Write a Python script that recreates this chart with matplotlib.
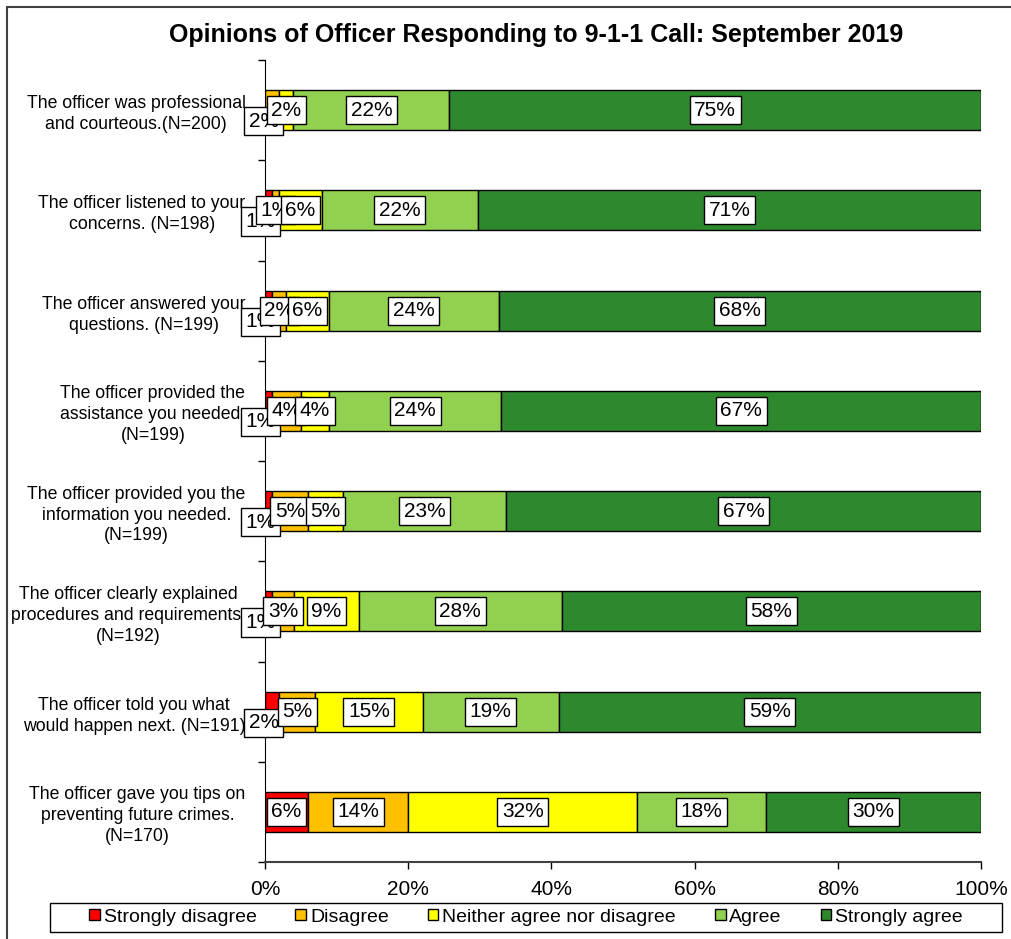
import matplotlib
matplotlib.use('Agg')
import matplotlib.pyplot as plt
from matplotlib.patches import Rectangle
import numpy as np

plt.rcParams['font.family'] = ['Liberation Sans', 'DejaVu Sans']

# Survey statements (top to bottom)
statements = [
    "The officer was professional\nand courteous.(N=200)",
    "The officer listened to your\nconcerns. (N=198)",
    "The officer answered your\nquestions. (N=199)",
    "The officer provided the\nassistance you needed.\n(N=199)",
    "The officer provided you the\ninformation you needed.\n(N=199)",
    "The officer clearly explained\nprocedures and requirements.\n(N=192)",
    "The officer told you what\nwould happen next. (N=191)",
    "The officer gave you tips on\npreventing future crimes.\n(N=170)",
]

# Percentages per response
strongly_disagree = [0, 1, 1, 1, 1, 1, 2, 6]
disagree = [2, 1, 2, 4, 5, 3, 5, 14]
neither = [2, 6, 6, 4, 5, 9, 15, 32]
agree = [22, 22, 24, 24, 23, 28, 19, 18]
strongly_agree = [75, 71, 68, 67, 67, 58, 59, 30]

series_names = ['Strongly disagree', 'Disagree', 'Neither agree nor disagree',
                'Agree', 'Strongly agree']
colors = ['#FF0000', '#FFC000', '#FFFF00', '#92D050', '#2E882E']

x_ticks = [0, 20, 40, 60, 80, 100]

W, H = 1012, 939
fig = plt.figure(figsize=(W / 100, H / 100), dpi=100)
ax = fig.add_axes([265 / W, 1 - 862 / H, (981 - 265) / W, (862 - 60) / H])

data = np.array([strongly_disagree, disagree, neither, agree, strongly_agree], dtype=float)
totals = data.sum(axis=0)
shares = data / totals * 100

y = np.arange(len(statements))
left = np.zeros(len(statements))
z = 3
for i, name in enumerate(series_names):
    ax.barh(y, shares[i], left=left, height=0.4, color=colors[i],
            edgecolor='black', linewidth=1, label=name, zorder=2)
    for j in range(len(statements)):
        val = data[i, j]
        if val <= 0:
            continue
        cx = left[j] + shares[i, j] / 2
        first = left[j] == 0
        dx, dy = 0, 0
        if first and shares[i, j] < 3:
            # small first segment: label nudged down-left like the original
            dx, dy = -6, -8
        ax.annotate(f"{int(val)}%", (cx, y[j]), xytext=(dx, dy),
                    textcoords='offset points', ha='center', va='center',
                    fontsize=15, zorder=z,
                    bbox=dict(boxstyle='square,pad=0.22', fc='white',
                              ec='black', lw=1))
        z += 1
    left += shares[i]

ax.set_xlim(0, 100)
ax.set_ylim(len(statements) - 0.5, -0.5)
ax.set_xticks(x_ticks)
ax.set_xticklabels([f"{t}%" for t in x_ticks], fontsize=15)
ax.set_yticks(y)
ax.set_yticklabels(statements, fontsize=12.7, multialignment='center',
                   linespacing=1.3)
ax.set_yticks(np.arange(len(statements) + 1) - 0.5, minor=True)
ax.tick_params(axis='y', which='major', length=0, pad=14)
ax.tick_params(axis='y', which='minor', length=5, width=1, direction='out')
ax.tick_params(axis='x', length=5, width=1, direction='out', pad=8)

for s in ['top', 'right']:
    ax.spines[s].set_visible(False)
ax.spines['left'].set_color('black')
ax.spines['bottom'].set_color('#404040')
ax.spines['bottom'].set_linewidth(1.5)

fig.text(536 / W, 1 - 35 / H,
         'Opinions of Officer Responding to 9-1-1 Call: September 2019',
         ha='center', va='center', fontsize=18, fontweight='bold')

leg = fig.legend(loc='center', bbox_to_anchor=(526 / W, 1 - 917 / H), ncol=5,
                 fontsize=14, frameon=False,
                 handlelength=0.55, handleheight=0.55, handletextpad=0.2,
                 columnspacing=2.0, borderpad=0.2)
for h in leg.legend_handles:
    h.set_edgecolor('black')
    h.set_linewidth(1)

# legend frame
fig.patches.append(Rectangle((50 / W, 1 - 932 / H), (1002 - 50) / W, 29 / H,
                             transform=fig.transFigure, fill=False,
                             ec='black', lw=1))

# outer chart border
fig.patches.append(Rectangle((7 / W, -0.1), 1.2, 1 - 7 / H + 0.1,
                             transform=fig.transFigure, fill=False,
                             ec='#404040', lw=1.5))

fig.savefig('out.png', dpi=100)
